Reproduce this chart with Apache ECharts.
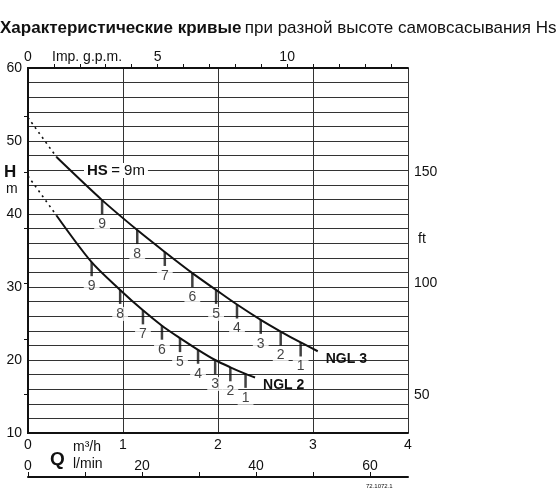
<!DOCTYPE html>
<html><head><meta charset="utf-8">
<script src="https://cdn.jsdelivr.net/npm/echarts@6/dist/echarts.min.js"></script>
<style>html,body{margin:0;background:#fff}#c{width:560px;height:504px}</style>
</head><body><div id="c"></div>
<script>
// Q in m3/h, H in m
var ngl3Dash = [[0, 53.2], [0.3, 47.8]];
var ngl3Line = [[0.3, 47.8], [0.78, 41.9], [1.15, 37.8], [1.44, 34.8], [1.73, 31.9], [1.98, 29.6], [2.2, 27.6], [2.45, 25.5], [2.66, 23.9], [2.87, 22.4], [3.05, 21.2]];
var ngl3Hs = [9, 8, 7, 6, 5, 4, 3, 2, 1];
var ngl2Dash = [[0, 45.2], [0.3, 39.8]];
var ngl2Line = [[0.3, 39.8], [0.67, 33.4], [0.97, 29.6], [1.21, 26.8], [1.41, 24.7], [1.6, 23.0], [1.79, 21.4], [1.97, 20.0], [2.13, 19.0], [2.29, 18.1], [2.39, 17.6]];
var ngl2Hs = [9, 8, 7, 6, 5, 4, 3, 2, 1];

var font = 'Liberation Sans, Arial, sans-serif';
function hsPoints(line, hs) {
    return hs.map(function (h, i) { return { value: line[i + 1], name: String(h) }; });
}
function tickSeries(line, hs) {
    return {
        type: 'scatter', xAxisIndex: 0, yAxisIndex: 0, z: 4,
        symbol: 'rect', symbolSize: [2.5, 14], symbolOffset: [0, 7],
        itemStyle: { color: '#111' },
        label: { show: true, position: 'bottom', distance: 3, formatter: '{b}', color: '#111',
            fontSize: 14, fontFamily: font, backgroundColor: '#fff', padding: [0, 4] },
        data: hsPoints(line, hs)
    };
}
function curve(data, dashed, end) {
    var s = {
        type: 'line', xAxisIndex: 0, yAxisIndex: 0, z: 3, smooth: 0.3,
        symbol: 'none', silent: true,
        lineStyle: { color: '#111', width: dashed ? 1.6 : 2, type: dashed ? [2, 4] : 'solid' },
        data: data
    };
    if (end) s.endLabel = { show: true, formatter: end, offset: [0, 8], color: '#111',
        fontWeight: 'bold', fontSize: 14, fontFamily: font };
    return s;
}
var chart = echarts.init(document.getElementById('c'));
chart.setOption({
    animation: false,
    backgroundColor: '#fff',
    grid: { left: 28, right: 152, top: 68, bottom: 71 },
    xAxis: [
        { type: 'value', min: 0, max: 4, interval: 1, position: 'bottom',
          axisLine: { onZero: false, lineStyle: { color: '#111', width: 2 } }, axisTick: { show: false },
          splitLine: { lineStyle: { color: '#333', width: 1 } },
          axisLabel: { color: '#111', fontSize: 14, fontFamily: font, margin: 5 } },
        { type: 'value', min: 0, max: 4 / 0.2728, position: 'top',
          axisLine: { lineStyle: { color: '#111', width: 2 } }, splitLine: { show: false },
          axisTick: { customValues: [1, 2, 3, 4, 5, 6, 7, 8, 9, 10, 11, 12, 13, 14], length: 4, lineStyle: { color: '#111' } },
          axisLabel: { customValues: [0, 5, 10], color: '#111', fontSize: 14, fontFamily: font, margin: 4 } },
        { type: 'value', min: 0, max: 4000 / 60, position: 'bottom', offset: 44,
          axisLine: { onZero: false, lineStyle: { color: '#111', width: 2 } }, splitLine: { show: false },
          axisTick: { inside: true, customValues: [0, 10, 20, 30, 40, 50, 60], length: 5, lineStyle: { color: '#111' } },
          axisLabel: { inside: true, customValues: [0, 20, 40, 60], color: '#111', fontSize: 14, fontFamily: font, margin: 4 } }
    ],
    yAxis: [
        { type: 'value', min: 10, max: 60, interval: 2, position: 'left',
          axisLine: { show: true, lineStyle: { color: '#111', width: 2 } }, axisTick: { show: false },
          splitLine: { lineStyle: { color: '#333', width: 1 } },
          axisLabel: { color: '#111', fontSize: 14, fontFamily: font, margin: 6,
              formatter: function (v) { return v % 10 === 0 ? v : ''; } } },
        { type: 'value', min: 10 / 0.3048, max: 60 / 0.3048, position: 'right',
          axisLine: { show: true, lineStyle: { color: '#111', width: 2 } }, splitLine: { show: false },
          axisTick: { inside: true, customValues: [50, 75, 100, 125, 150, 175], length: 4, lineStyle: { color: '#111' } },
          axisLabel: { customValues: [50, 100, 150], color: '#111', fontSize: 14, fontFamily: font, margin: 6 } }
    ],
    series: [
        curve(ngl3Dash, true), curve(ngl3Line, false, 'NGL 3'), tickSeries(ngl3Line, ngl3Hs),
        curve(ngl2Dash, true), curve(ngl2Line, false, 'NGL 2'), tickSeries(ngl2Line, ngl2Hs)
    ],
    graphic: [
        { type: 'text', left: 0, top: 20, style: { rich: { b: { fontWeight: 'bold', fontSize: 17, fontFamily: font, fill: '#111' },
            n: { fontSize: 17, fontFamily: font, fill: '#111' } },
            text: '{b|Характеристические кривые} {n|при разной высоте самовсасывания Hs}' } },
        { type: 'text', left: 52, top: 50, style: { text: 'Imp. g.p.m.', fontSize: 14, fontFamily: font, fill: '#111' } },
        { type: 'text', left: 4, top: 164, style: { text: 'H', fontSize: 17, fontWeight: 'bold', fontFamily: font, fill: '#111' } },
        { type: 'text', left: 6, top: 182, style: { text: 'm', fontSize: 14, fontFamily: font, fill: '#111' } },
        { type: 'text', left: 418, top: 232, style: { text: 'ft', fontSize: 14, fontFamily: font, fill: '#111' } },
        { type: 'text', left: 84, top: 163, z: 10, style: { rich: { b: { fontWeight: 'bold', fontSize: 15, fontFamily: font, fill: '#111' },
            n: { fontSize: 15, fontFamily: font, fill: '#111' } }, text: '{b|HS} {n|= 9m}', backgroundColor: '#fff', padding: [0, 3] } },
        { type: 'text', left: 50, top: 450, style: { text: 'Q', fontSize: 19, fontWeight: 'bold', fontFamily: font, fill: '#111' } },
        { type: 'text', left: 73, top: 440, style: { text: 'm³/h', fontSize: 14, fontFamily: font, fill: '#111' } },
        { type: 'text', left: 73, top: 457, style: { text: 'l/min', fontSize: 14, fontFamily: font, fill: '#111' } },
        { type: 'text', left: 366, top: 483, style: { text: '72.1072.1', fontSize: 6, fontFamily: font, fill: '#111' } }
    ]
});
</script></body></html>
